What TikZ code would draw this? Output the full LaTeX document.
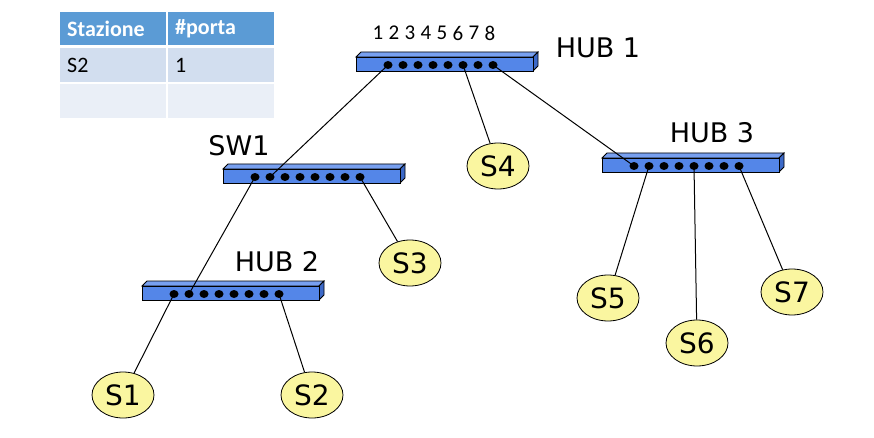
\documentclass[tikz,border=0pt]{standalone}
\usepackage{fontspec}
\setmainfont{Carlito}
\newfontfamily\labelfont{DejaVu Sans}
\usetikzlibrary{shapes.geometric}
\usetikzlibrary{positioning}

\definecolor{hubblue}{RGB}{84,134,232}
\definecolor{hubtopblue}{RGB}{120,160,240}
\definecolor{hubsideblue}{RGB}{60,105,200}
\definecolor{stayellow}{RGB}{250,246,160}
\definecolor{headblue}{RGB}{91,155,213}
\definecolor{rowone}{RGB}{210,222,239}
\definecolor{rowtwo}{RGB}{234,239,247}

% bar of a hub/switch: #1 name, #2 x, #3 y of the front top-left corner
\newcommand{\hubbar}[3]{%
	\filldraw[fill=hubtopblue, line width=0.8pt] (#2,#3) -- ++(5,-5) -- ++(177,0) -- ++(-5,5) -- cycle;
	\filldraw[fill=hubsideblue, line width=0.8pt] ({#2+177},#3) -- ++(5,-5) -- ++(0,14) -- ++(-5,5) -- cycle;
	\filldraw[fill=hubblue, line width=0.8pt] (#2,#3) rectangle ++(177,14);
	\foreach \i in {1,...,8}
		\node[port] (#1-\i) at ({#2+17+15*\i},{#3+8}) {};
}

\begin{document}
\begin{tikzpicture}[x=1pt, y=-1pt,
	station/.style={ellipse, draw, fill=stayellow, line width=0.8pt, minimum width=62pt, minimum height=46pt, inner sep=0pt, font=\labelfont\fontsize{28}{32}\selectfont},
	port/.style={ellipse, fill=black, minimum width=9pt, minimum height=8pt, inner sep=0pt},
	devname/.style={font=\labelfont\fontsize{27}{31}\selectfont},
	hcell/.style={anchor=north west, fill=headblue, text=white, font=\bfseries\fontsize{22}{25}\selectfont, minimum width=106pt, minimum height=33pt, text width=92pt, inner xsep=7pt, inner ysep=0pt, align=left},
	cell/.style={anchor=north west, font=\fontsize{22}{25}\selectfont, minimum width=106pt, minimum height=34pt, text width=92pt, inner xsep=7pt, inner ysep=0pt, align=left},
	link/.style={line width=1pt}]
	\useasboundingbox (0,0) rectangle (874,438);

	% table
	\node[hcell] (thsta) at (60,12) {Stazione};
	\node[hcell] (thport) at (168,12) {\#porta};
	\node[cell, fill=rowone] (tsta) at (60,48) {S2};
	\node[cell, fill=rowone] (tport) at (168,48) {1};
	\node[cell, fill=rowtwo] (tsta2) at (60,84) {};
	\node[cell, fill=rowtwo] (tport2) at (168,84) {};

	% hubs and switch
	\hubbar{hubone}{356}{57}
	\hubbar{sw}{223}{169}
	\hubbar{hubtwo}{142}{286}
	\hubbar{hubthree}{602}{158}

	\foreach \i in {1,...,8}
		\node[font=\fontsize{21}{24}\selectfont] (pnum\i) at ({362+16*\i},33) {\i};

	\node[devname] (hubonelbl) at (598,48) {HUB 1};
	\node[devname] (swlbl) at (239,146) {SW1};
	\node[devname] (hubtwolbl) at (277,262) {HUB 2};
	\node[devname] (hubthreelbl) at (712,133) {HUB 3};

	% stations
	\node[station] (s1) at (123,395) {S1};
	\node[station] (s2) at (312,395) {S2};
	\node[station] (s3) at (410,263) {S3};
	\node[station] (s4) at (498,166) {S4};
	\node[station] (s5) at (608,298) {S5};
	\node[station] (s6) at (697,343) {S6};
	\node[station] (s7) at (792,292) {S7};

	% edges
	\draw[link] (hubone-1.center) -- (sw-2.center);
	\draw[link] (hubone-6.center) -- (s4);
	\draw[link] (hubone-8.center) -- (hubthree-1.center);
	\draw[link] (sw-1.center) -- (hubtwo-2.center);
	\draw[link] (sw-8.center) -- (s3);
	\draw[link] (hubtwo-1.center) -- (s1);
	\draw[link] (hubtwo-8.center) -- (s2);
	\draw[link] (hubthree-2.center) -- (s5);
	\draw[link] (hubthree-5.center) -- (s6);
	\draw[link] (hubthree-8.center) -- (s7);
\end{tikzpicture}
\end{document}
